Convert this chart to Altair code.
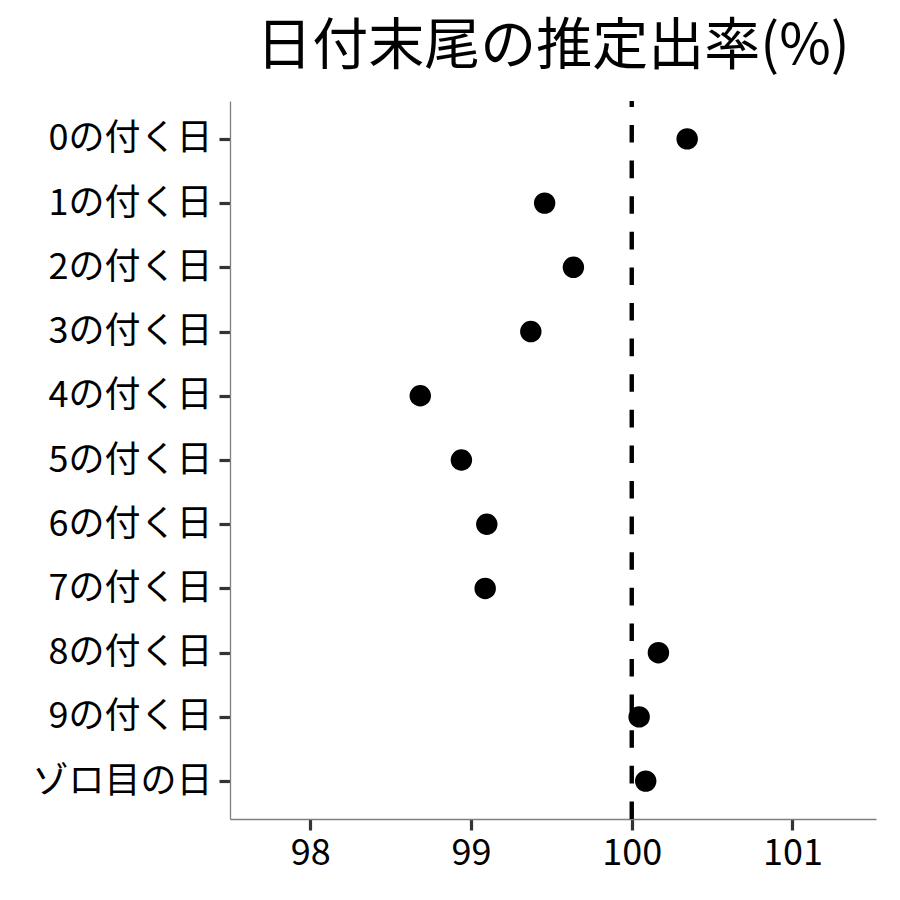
import altair as alt
import pandas as pd

categories = ["0の付く日", "1の付く日", "2の付く日", "3の付く日", "4の付く日",
              "5の付く日", "6の付く日", "7の付く日", "8の付く日", "9の付く日", "ゾロ目の日"]
rates = [100.345, 99.458, 99.637, 99.372, 98.684, 98.940, 99.098, 99.088,
         100.166, 100.046, 100.087]
x_ticks = [98, 99, 100, 101]
ref_value = [100]

df = pd.DataFrame({"cat": categories, "rate": rates})
ref = pd.DataFrame({"v": ref_value})

FONT = "Noto Sans CJK JP"
W, H = 646, 718

x_scale = alt.Scale(domain=[97.5, 101.52], nice=False, zero=False)

rule = alt.Chart(ref).mark_rule(
    color="black", strokeWidth=4.4, strokeDash=[17.6, 18]
).encode(
    x=alt.X("v:Q", scale=x_scale),
    y=alt.value(H),
    y2=alt.value(0),
)

points = alt.Chart(df).mark_circle(
    color="black", opacity=1, size=460
).encode(
    x=alt.X("rate:Q", scale=x_scale, title=None,
            axis=alt.Axis(values=x_ticks, format="d")),
    y=alt.Y("cat:N", sort=categories, title=None,
            scale=alt.Scale(type="point", padding=0.59)),
)

chart = alt.layer(rule, points).properties(
    width=W,
    height=H,
    background="white",
    autosize=alt.AutoSizeParams(type="none"),
    padding={"left": 222, "top": 93, "right": 16, "bottom": 70},
    title=alt.TitleParams(
        "日付末尾の推定出率(%)", font=FONT, fontSize=56, fontWeight="normal",
        color="black", anchor="middle", offset=23
    ),
).configure_view(
    stroke=None
).configure_axis(
    grid=False,
    domainColor="#7f7f7f",
    domainWidth=1.3,
    tickColor="#333333",
    tickWidth=3.2,
    tickSize=11,
    labelFont=FONT,
    labelFontSize=36,
    labelColor="black",
    labelPadding=6,
    labelLimit=400,
).configure_axisY(
    labelPadding=7,
)

chart.save("out.html", embed_options={"renderer": "svg", "actions": False})
